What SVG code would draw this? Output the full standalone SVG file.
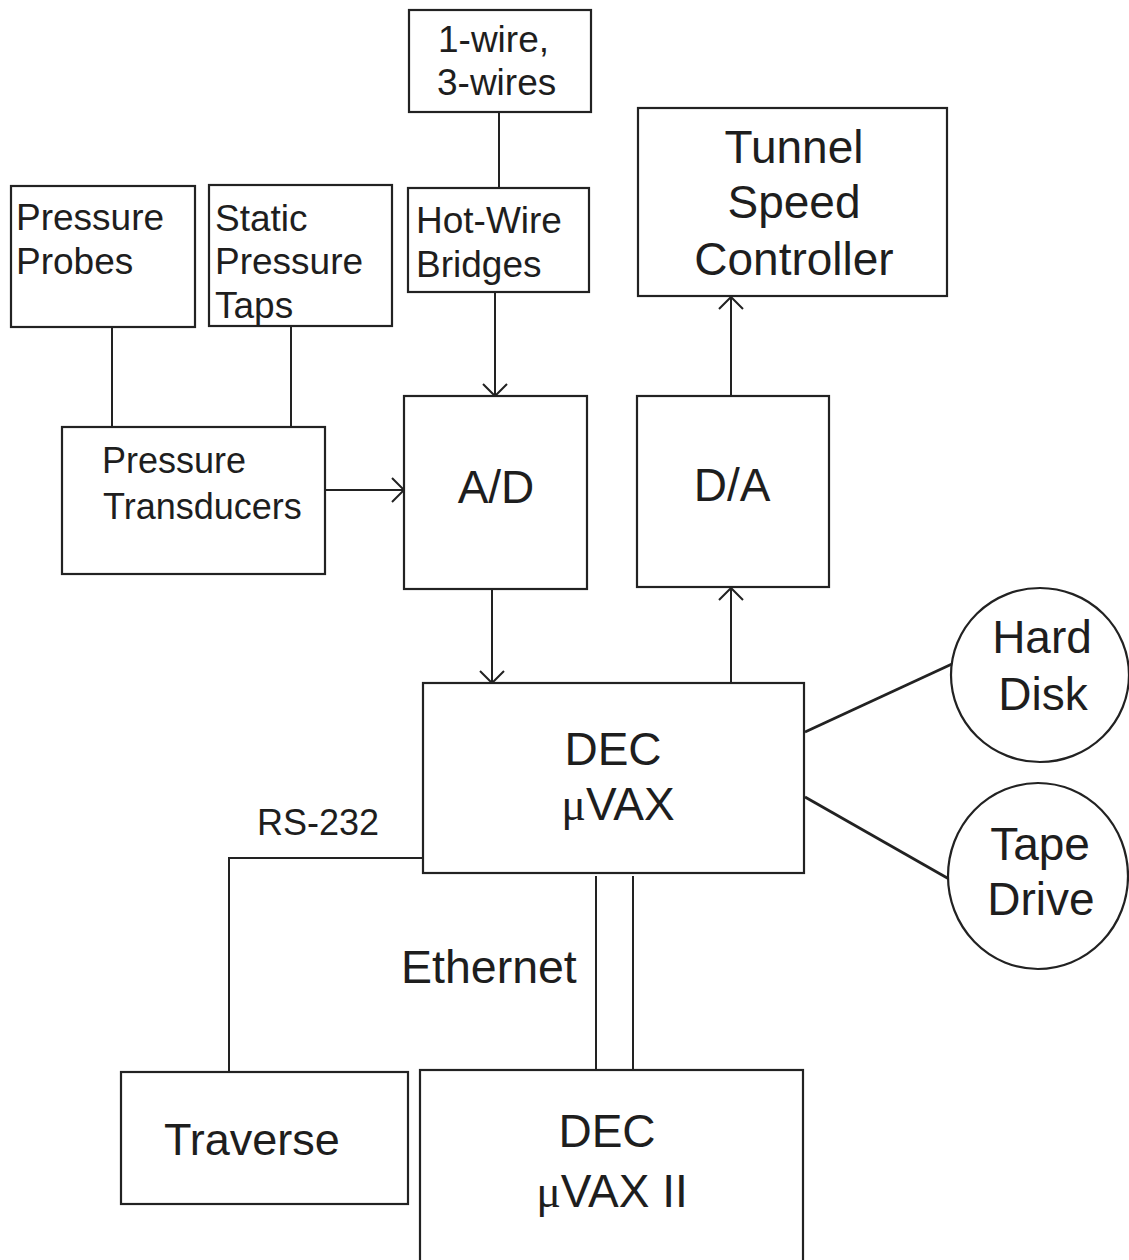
<svg xmlns="http://www.w3.org/2000/svg" width="1129" height="1260" viewBox="0 0 1129 1260">
<style>
.box{fill:#fff;stroke:#222;stroke-width:2.2}
.ln{fill:none;stroke:#222;stroke-width:2}
.thick{fill:none;stroke:#222;stroke-width:2.8}
text{font-family:"Liberation Sans",Arial,Helvetica,sans-serif;fill:#1e1e1e}
.s37{font-size:37px}
.s36{font-size:36px}
.s46{font-size:46px}
.mid{text-anchor:middle}
.mu{font-family:"Liberation Serif","Times New Roman",serif}
</style>
<defs>
<marker id="arr" markerUnits="userSpaceOnUse" markerWidth="30" markerHeight="30" refX="0" refY="0" viewBox="-15 -15 30 30" orient="auto" overflow="visible">
<path d="M-12,-12 L0,0 L-12,12" fill="none" stroke="#222" stroke-width="2"/>
</marker>
</defs>
<rect width="1129" height="1260" fill="#fff"/>
<g id="connectors">
<line class="ln" x1="499" y1="112" x2="499" y2="188"/>
<line class="ln" x1="495" y1="292" x2="495" y2="396" marker-end="url(#arr)"/>
<line class="ln" x1="112" y1="327" x2="112" y2="427"/>
<line class="ln" x1="291" y1="326" x2="291" y2="427"/>
<line class="ln" x1="325" y1="490" x2="404" y2="490" marker-end="url(#arr)"/>
<line class="ln" x1="492" y1="589" x2="492" y2="683" marker-end="url(#arr)"/>
<line class="ln" x1="731" y1="683" x2="731" y2="588" marker-end="url(#arr)"/>
<line class="ln" x1="731" y1="396" x2="731" y2="297" marker-end="url(#arr)"/>
<line class="thick" x1="805" y1="732" x2="952" y2="664"/>
<line class="thick" x1="805" y1="797" x2="949" y2="879"/>
<polyline class="ln" points="423,858 229,858 229,1072"/>
<line class="ln" x1="596" y1="876" x2="596" y2="1070"/>
<line class="ln" x1="633" y1="876" x2="633" y2="1070"/>
<text x="257" y="835" class="s36">RS-232</text>
<text x="401" y="983" style="font-size:46.5px">Ethernet</text>
</g>
<g id="one-wire">
<rect class="box" x="409" y="10" width="182" height="102"/>
<text x="438" y="52" class="s37">1-wire,</text>
<text x="437" y="95" class="s37">3-wires</text>
</g>
<g id="hot-wire">
<rect class="box" x="408" y="188" width="181" height="104"/>
<text x="416" y="233" class="s37">Hot-Wire</text>
<text x="416" y="277" class="s37">Bridges</text>
</g>
<g id="pressure-probes">
<rect class="box" x="11" y="186" width="184" height="141"/>
<text x="16" y="230" class="s37">Pressure</text>
<text x="16" y="274" class="s37">Probes</text>
</g>
<g id="static-taps">
<rect class="box" x="209" y="185" width="183" height="141"/>
<text x="215" y="231" class="s37">Static</text>
<text x="215" y="274" class="s37">Pressure</text>
<text x="215" y="318" class="s37">Taps</text>
</g>
<g id="tunnel">
<rect class="box" x="638" y="108" width="309" height="188"/>
<text x="794" y="163" class="s46 mid">Tunnel</text>
<text x="794" y="218" class="s46 mid">Speed</text>
<text x="794" y="275" class="s46 mid">Controller</text>
</g>
<g id="transducers">
<rect class="box" x="62" y="427" width="263" height="147"/>
<text x="102" y="473" class="s36">Pressure</text>
<text x="103" y="519" class="s36">Transducers</text>
</g>
<g id="ad">
<rect class="box" x="404" y="396" width="183" height="193"/>
<text x="496" y="503" class="s46 mid">A/D</text>
</g>
<g id="da">
<rect class="box" x="637" y="396" width="192" height="191"/>
<text x="732" y="501" class="s46 mid">D/A</text>
</g>
<g id="dec">
<rect class="box" x="423" y="683" width="381" height="190"/>
<text x="613" y="765" class="s46 mid">DEC</text>
<text x="618" y="820" class="s46 mid"><tspan class="mu">μ</tspan>VAX</text>
</g>
<g id="hard-disk">
<ellipse class="box" cx="1040" cy="675" rx="89" ry="87"/>
<text x="1042" y="653" class="s46 mid">Hard</text>
<text x="1043" y="710" class="s46 mid">Disk</text>
</g>
<g id="tape-drive">
<ellipse class="box" cx="1038" cy="876" rx="90" ry="93"/>
<text x="1040" y="860" class="s46 mid">Tape</text>
<text x="1041" y="915" class="s46 mid">Drive</text>
</g>
<g id="traverse">
<rect class="box" x="121" y="1072" width="287" height="132"/>
<text x="164" y="1155" style="font-size:45px">Traverse</text>
</g>
<g id="dec2">
<rect class="box" x="420" y="1070" width="383" height="200"/>
<text x="607" y="1147" class="s46 mid">DEC</text>
<text x="612" y="1207" class="s46 mid"><tspan class="mu">μ</tspan>VAX II</text>
</g>
</svg>
